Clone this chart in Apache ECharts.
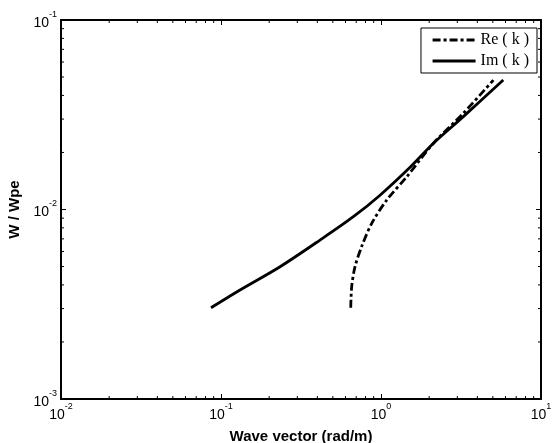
<!DOCTYPE html>
<html><head><meta charset="utf-8">
<script src="https://cdn.jsdelivr.net/npm/echarts@6/dist/echarts.min.js"></script>
<style>html,body{margin:0;padding:0;background:#fff}#c{width:552px;height:443px}</style>
</head><body><div id="c"></div>
<script>
// Data
const imK = [0.0866, 0.1315, 0.234, 0.416, 0.672, 0.986, 1.52, 2.12, 3.27, 5.81];
const imW = [0.00303, 0.00376, 0.00499, 0.0069, 0.00916, 0.0119, 0.0167, 0.0223, 0.0309, 0.0482];
const reK = [0.647, 0.656, 0.688, 0.757, 0.875, 1.085, 1.45, 2.12, 3.27, 5.04];
const reW = [0.00303, 0.00392, 0.00499, 0.00637, 0.00845, 0.0112, 0.0149, 0.0223, 0.0322, 0.0482];
const seriesNames = ['Re ( k )', 'Im ( k )'];
// minor tick values (axis decoration)
const xMinor = [0.02,0.03,0.04,0.05,0.06,0.07,0.08,0.09,0.2,0.3,0.4,0.5,0.6,0.7,0.8,0.9,2,3,4,5,6,7,8,9];
const yMinor = [0.002,0.003,0.004,0.005,0.006,0.007,0.008,0.009,0.02,0.03,0.04,0.05,0.06,0.07,0.08,0.09];
const xMin = 0.01, xMax = 10, yMin = 0.001, yMax = 0.1;

const chart = echarts.init(document.getElementById('c'), null, {renderer: 'canvas'});
const fmt = v => {
  const e = Math.round(Math.log10(v));
  return '{b|10}{s|' + e + '}';
};
const rich = {
  b: {fontFamily: 'Liberation Sans', fontSize: 14, color: '#000', lineHeight: 20, verticalAlign: 'bottom'},
  s: {fontFamily: 'Liberation Sans', fontSize: 9, color: '#000', lineHeight: 20, verticalAlign: 'top'}
};
const axLine = {show: true, lineStyle: {color: '#000', width: 2}};
const tick = {show: true, inside: true, length: 5, lineStyle: {color: '#000', width: 1}};
const pair = (a, b) => a.map((v, i) => [v, b[i]]);

chart.setOption({
  animation: false,
  backgroundColor: '#fff',
  grid: {left: 61, right: 11, top: 20, bottom: 44, containLabel: false, outerBoundsMode: 'none'},
  legend: {
    right: 15, top: 28, orient: 'vertical',
    data: seriesNames,
    itemWidth: 43, itemHeight: 14, itemGap: 5,
    padding: [4, 8, 4, 10],
    borderColor: '#000', borderWidth: 1, backgroundColor: '#fff',
    itemStyle: {opacity: 0},
    lineStyle: {width: 3.2},
    textStyle: {fontFamily: 'Liberation Serif', fontSize: 16, color: '#000'}
  },
  xAxis: [{
    type: 'log', logBase: 10, min: xMin, max: xMax, position: 'bottom',
    name: 'Wave vector (rad/m)', nameLocation: 'middle', nameGap: 30,
    nameTextStyle: {fontFamily: 'Liberation Sans', fontWeight: 'bold', fontSize: 15, color: '#000'},
    axisLine: axLine, axisTick: tick, splitLine: {show: false},
    axisLabel: {formatter: fmt, rich: rich, margin: 3}
  }, {
    type: 'log', logBase: 10, min: xMin, max: xMax, position: 'top',
    axisLine: axLine, axisTick: tick, splitLine: {show: false}, axisLabel: {show: false}
  }],
  yAxis: [{
    type: 'log', logBase: 10, min: yMin, max: yMax, position: 'left',
    name: 'W / Wpe', nameLocation: 'middle', nameGap: 37, nameRotate: 90,
    nameTextStyle: {fontFamily: 'Liberation Sans', fontWeight: 'bold', fontSize: 15, color: '#000'},
    axisLine: axLine, axisTick: tick, splitLine: {show: false},
    axisLabel: {formatter: fmt, rich: rich, margin: 4}
  }, {
    type: 'log', logBase: 10, min: yMin, max: yMax, position: 'right',
    axisLine: axLine, axisTick: tick, splitLine: {show: false}, axisLabel: {show: false}
  }],
  series: [{
    name: seriesNames[0], type: 'line', data: pair(reK, reW), smooth: 0.3,
    showSymbol: false, symbol: 'none',
    lineStyle: {color: '#000', width: 2.8, type: [8, 3, 3, 3]},
    itemStyle: {color: '#000'}
  }, {
    name: seriesNames[1], type: 'line', data: pair(imK, imW), smooth: 0.3,
    showSymbol: false, symbol: 'none',
    lineStyle: {color: '#000', width: 2.8, type: 'solid'},
    itemStyle: {color: '#000'}
  }, {
    type: 'custom', silent: true, clip: false, z: 5,
    data: xMinor.map(v => [v, yMin]),
    renderItem: (params, api) => {
      const v = api.value(0);
      const b = api.coord([v, yMin]), t = api.coord([v, yMax]);
      const s = {stroke: '#000', lineWidth: 1};
      return {type: 'group', children: [
        {type: 'line', shape: {x1: b[0], y1: b[1], x2: b[0], y2: b[1] - 3}, style: s},
        {type: 'line', shape: {x1: t[0], y1: t[1], x2: t[0], y2: t[1] + 3}, style: s}
      ]};
    }
  }, {
    type: 'custom', silent: true, clip: false, z: 5,
    data: yMinor.map(v => [xMin, v]),
    renderItem: (params, api) => {
      const v = api.value(1);
      const l = api.coord([xMin, v]), r = api.coord([xMax, v]);
      const s = {stroke: '#000', lineWidth: 1};
      return {type: 'group', children: [
        {type: 'line', shape: {x1: l[0], y1: l[1], x2: l[0] + 3, y2: l[1]}, style: s},
        {type: 'line', shape: {x1: r[0], y1: r[1], x2: r[0] - 3, y2: r[1]}, style: s}
      ]};
    }
  }]
});
</script></body></html>
